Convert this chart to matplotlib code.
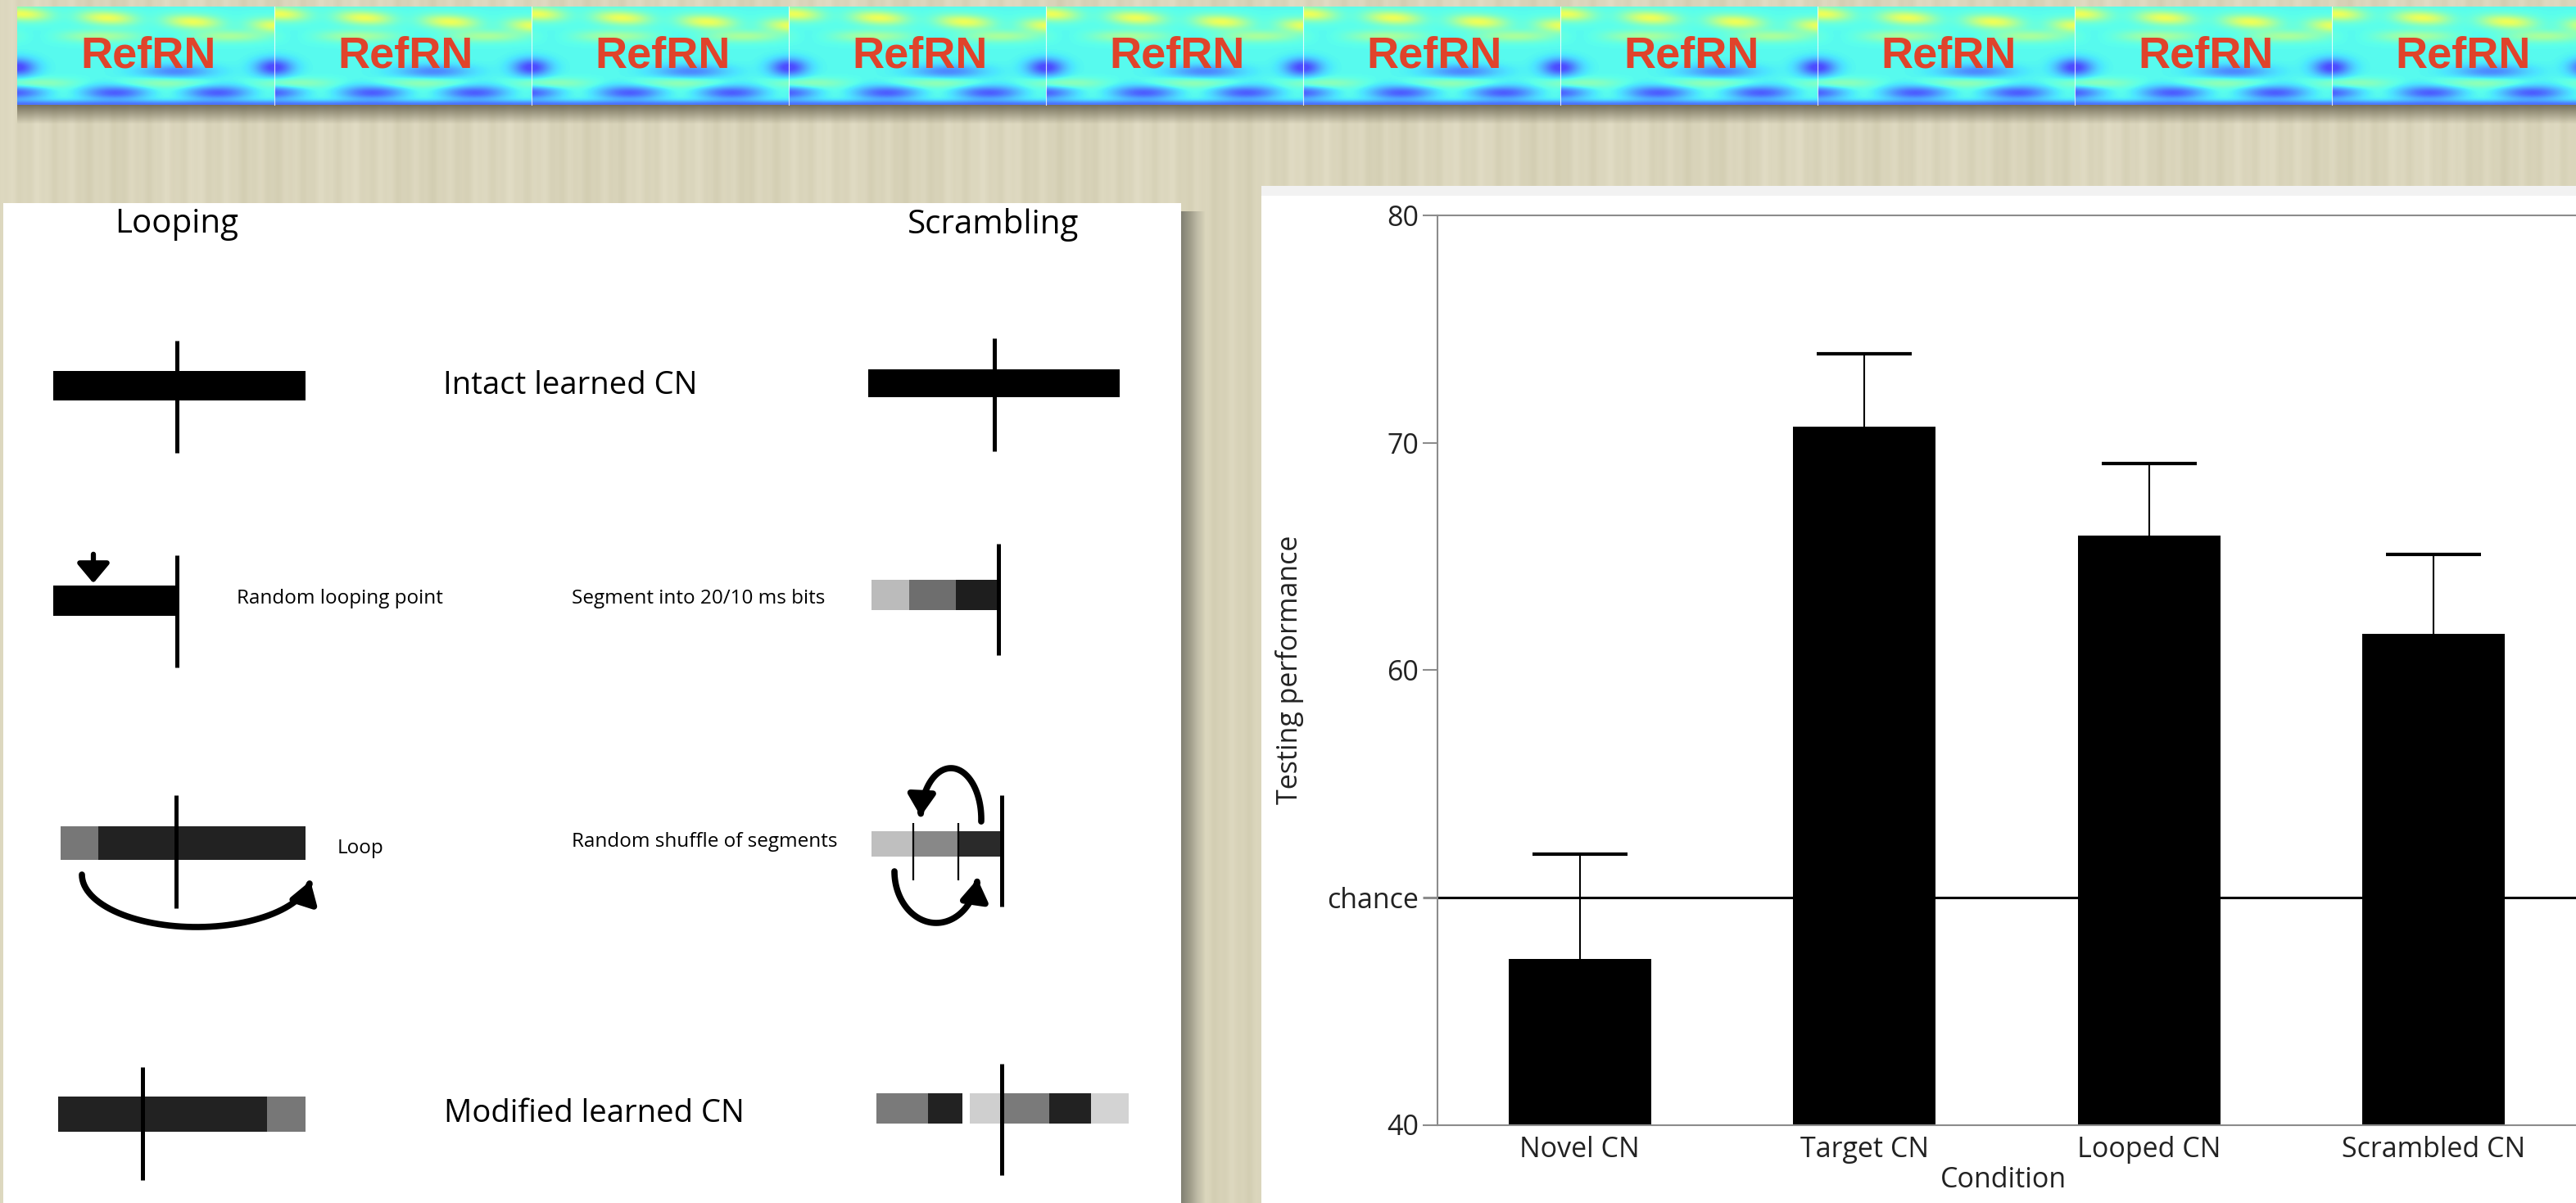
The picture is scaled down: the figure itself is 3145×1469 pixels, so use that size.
"""Looping / scrambling schematic with testing performance bar chart."""

import matplotlib
matplotlib.use("Agg")
import matplotlib.pyplot as plt
from matplotlib.patches import Rectangle, FancyArrowPatch
from matplotlib.path import Path
import numpy as np

W, H = 3145, 1469
DPI = 100

# bar chart data
conditions = ["Novel CN", "Target CN", "Looped CN", "Scrambled CN"]
performance = [47.3, 70.7, 65.9, 61.6]
error_up = [4.6, 3.2, 3.2, 3.5]
chance_level = 50
y_ticks = [40, 50, 60, 70, 80]
y_tick_labels = ["40", "chance", "60", "70", "80"]

plt.rcParams['font.family'] = ['Open Sans', 'DejaVu Sans']


def fx(x):
    return x / W


def fy(y):
    return 1 - y / H


def banner_tile(w=314, h=120):
    """Smooth decorative field for one banner tile, mapped through jet."""
    u, v = np.meshgrid(np.linspace(0, 1, w), np.linspace(0, 1, h))
    du = np.minimum(u, 1 - u)
    f = 0.37 + 0 * u
    f += 0.26 * np.exp(-((v - 0.07 - 0.12 * u) / 0.07) ** 2) * (0.55 + 0.45 * np.sin(2 * np.pi * (3 * u + 0.2)))
    f += 0.14 * np.exp(-((v - 0.30) / 0.06) ** 2) * (0.5 + 0.5 * np.sin(2 * np.pi * (2 * u + 0.6)))
    f -= 0.26 * np.exp(-(du / 0.07) ** 2 - ((v - 0.62) / 0.09) ** 2)
    f -= 0.16 * np.exp(-((u - 0.62) / 0.14) ** 2 - ((v - 0.66) / 0.07) ** 2)
    f -= 0.22 * (0.5 + 0.5 * np.sin(2 * np.pi * (2.5 * u + 0.3))) * np.exp(-((v - 0.88) / 0.07) ** 2)
    f -= 0.18 * np.exp(-((v - 1.0) / 0.04) ** 2)
    f += 0.10 * np.exp(-((v - 0.78) / 0.05) ** 2) * (0.5 + 0.5 * np.sin(2 * np.pi * (2 * u + 0.1)))
    rgb = plt.get_cmap('jet')(np.clip(f, 0, 1))[..., :3]
    return 0.70 * rgb + 0.30


fig = plt.figure(figsize=(W / DPI, H / DPI), dpi=DPI)
ax0 = fig.add_axes([0, 0, 1, 1])

# textured beige background
xs = np.arange(W)
streak = np.clip(0.5 + 0.18 * np.sin(xs / 6.1) + 0.10 * np.sin(xs / 2.3 + 1.3)
                 + 0.12 * np.sin(xs / 31.0 + 0.4), 0, 1)
dark = np.array([0.82, 0.80, 0.69])
light = np.array([0.89, 0.87, 0.78])
bg = dark + (light - dark) * streak[:, None]
ax0.imshow(bg[None, :, :], extent=(0, W, H, 0), aspect='auto', interpolation='bilinear', zorder=0)

# banner
tile = banner_tile()
strip = np.tile(tile, (1, 10, 1))
ax0.imshow(strip, extent=(21, 21 + 3140, 128, 8), aspect='auto', interpolation='bilinear', zorder=1)
for i in range(10):
    x0 = 21 + 314 * i
    if i > 0:
        ax0.plot([x0, x0], [8, 128], color='white', lw=0.8, alpha=0.8, zorder=2)
    ax0.text(x0 + 160, 68, "RefRN", color='#e0432b', fontsize=39, fontweight='bold',
             family=['Liberation Sans', 'DejaVu Sans'], ha='center', va='center', zorder=3)

# shadow under banner
shade = np.zeros((24, 1, 4))
shade[..., :3] = [0.40, 0.38, 0.30]
shade[:, 0, 3] = np.linspace(0.85, 0, 24)
ax0.imshow(shade, extent=(21, W, 152, 128), aspect='auto', zorder=1)

# left panel + right shadow
ax0.add_patch(Rectangle((4, 248), 1438, H - 248, fc='white', ec='none', zorder=2))
side = np.zeros((1, 30, 4))
side[..., :3] = [0.42, 0.42, 0.38]
side[0, :, 3] = np.linspace(0.8, 0, 30)
ax0.imshow(side, extent=(1442, 1472, H, 258), aspect='auto', zorder=1)

# right panel
ax0.add_patch(Rectangle((1540, 227), W - 1540, H - 227, fc='white', ec='none', zorder=2))
ax0.add_patch(Rectangle((1540, 227), W - 1540, 12, fc='#f2f2f2', ec='none', zorder=2))


def block(x0, x1, y0, y1, color, alpha=1.0):
    ax0.add_patch(Rectangle((x0, y0), x1 - x0, y1 - y0, fc=color, ec='none', alpha=alpha, zorder=3))


def marker(x, y0, y1, lw=3.6):
    ax0.plot([x, x], [y0, y1], color='black', lw=lw, solid_capstyle='butt', zorder=4)


def arc_arrow(cx, cy, rx, ry, t0, t1):
    t = np.linspace(t0, t1, 60)
    verts = np.column_stack([cx + rx * np.cos(t), cy + ry * np.sin(t)])
    ax0.add_patch(FancyArrowPatch(path=Path(verts), arrowstyle='-|>,head_length=0.7,head_width=0.45',
                                  mutation_scale=22, lw=5.5, color='black', zorder=4))


# headers
ax0.text(216, 274, "Looping", fontsize=29, ha='center', va='center', zorder=5)
ax0.text(1213, 274, "Scrambling", fontsize=29, ha='center', va='center', zorder=5)

# row 1: intact
block(65, 373, 453, 489, 'black')
marker(216, 416, 553)
block(1060, 1367, 451, 485, 'black')
marker(1214, 413, 551)
ax0.text(696, 471, "Intact learned CN", fontsize=27.5, ha='center', va='center', zorder=5)

# row 2: looping point / segmenting
block(65, 215, 715, 752, 'black')
marker(216, 678, 815)
ax0.add_patch(FancyArrowPatch((114, 674), (114, 715), arrowstyle='-|>,head_length=0.6,head_width=0.5',
                              mutation_scale=24, lw=4.5, color='black', zorder=4))
ax0.text(289, 731, "Random looping point", fontsize=17.5, ha='left', va='center', zorder=5)
ax0.text(698, 731, "Segment into 20/10 ms bits", fontsize=17.5, ha='left', va='center', zorder=5)
block(1064, 1110, 708, 745, '#b4b4b4', 0.9)
block(1110, 1167, 708, 745, '#6e6e6e')
block(1167, 1221, 708, 745, '#1e1e1e')
marker(1219, 664, 800)

# row 3: loop / shuffle
block(74, 120, 1009, 1050, '#777777')
block(120, 373, 1009, 1050, '#222222')
marker(215, 971, 1109)
arc_arrow(240, 1068, 140, 64, np.pi, 0.12)
ax0.text(412, 1036, "Loop", fontsize=17.5, ha='left', va='center', zorder=5)
ax0.text(698, 1028, "Random shuffle of segments", fontsize=17.5, ha='left', va='center', zorder=5)
block(1064, 1115, 1015, 1046, '#b8b8b8', 0.9)
block(1115, 1170, 1015, 1046, '#888888')
block(1170, 1221, 1015, 1046, '#2a2a2a')
marker(1115, 1005, 1075, lw=1.6)
marker(1170, 1005, 1075, lw=1.6)
marker(1223, 971, 1107)
arc_arrow(1161, 1000, 37, 62, 0.05, -np.pi + 0.05)
arc_arrow(1143, 1064, 51, 63, np.pi, 0.15)

# row 4: modified
block(71, 326, 1339, 1382, '#222222')
block(326, 373, 1339, 1382, '#777777')
marker(174, 1303, 1441)
ax0.text(725, 1360, "Modified learned CN", fontsize=27.5, ha='center', va='center', zorder=5)
block(1070, 1133, 1335, 1372, '#7a7a7a')
block(1133, 1175, 1335, 1372, '#222222')
block(1184, 1226, 1335, 1372, '#c4c4c4', 0.8)
block(1226, 1281, 1335, 1372, '#7a7a7a')
block(1281, 1332, 1335, 1372, '#222222')
block(1332, 1378, 1335, 1372, '#c8c8c8', 0.8)
marker(1223, 1299, 1435)

ax0.set_xlim(0, W)
ax0.set_ylim(H, 0)
ax0.axis('off')

# bar chart
spacing = 347.5
ax_left, ax_top, ax_bottom = 1755, 263, 1373.5
xlim = (-0.5, 3.6)
ax = fig.add_axes([fx(ax_left), fy(ax_bottom), (xlim[1] - xlim[0]) * spacing / W,
                   (ax_bottom - ax_top) / H])
x = np.arange(len(conditions))
ax.axhline(chance_level, color='black', lw=2.2, zorder=1)
eb = ax.errorbar(x, performance, yerr=[np.zeros(len(x)), error_up], fmt='none', ecolor='black',
                 elinewidth=1.5, capsize=42, capthick=3, zorder=1.5)
eb[1][0].set_visible(False)  # no cap at the bar top
ax.bar(x, performance, width=0.5, color='black', zorder=2)
ax.set_xlim(*xlim)
ax.set_ylim(40, 80)
ax.set_xticks(x)
ax.set_xticklabels(conditions)
ax.set_yticks(y_ticks)
ax.set_yticklabels(y_tick_labels)
for s in ax.spines.values():
    s.set_color('#8c8c8c')
    s.set_linewidth(1.5)
ax.tick_params(axis='y', direction='out', length=13, width=1.5, color='#8c8c8c',
               labelsize=24.5, pad=3.5, labelcolor='#222222')
ax.tick_params(axis='x', length=0, labelsize=24.5, pad=10, labelcolor='#222222')
chance_tick = ax.yaxis.get_major_ticks()[1]
chance_tick.tick1line.set_color('black')
chance_tick.tick1line.set_markeredgewidth(2.2)

fig.text(fx(1574), fy(818), "Testing performance", fontsize=24.5, rotation=90,
         ha='center', va='center', color='#222222')
fig.text(fx(2446), fy(1441), "Condition", fontsize=24.5, ha='center', va='center', color='#222222')

fig.savefig("out.png", dpi=DPI)
